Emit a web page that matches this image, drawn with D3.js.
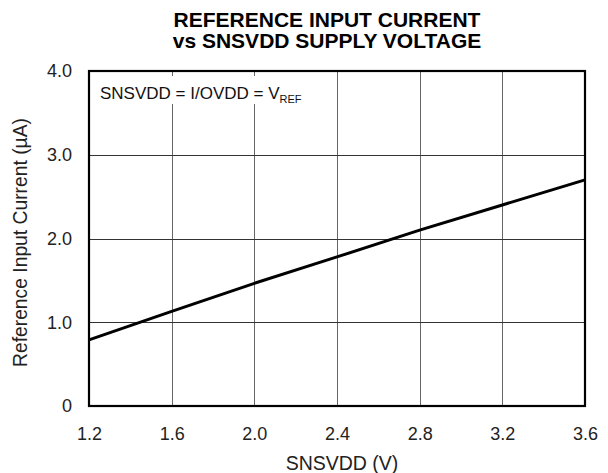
<!DOCTYPE html>
<html><head><meta charset="utf-8">
<script src="https://cdn.jsdelivr.net/npm/d3@7"></script>
<style>body{margin:0;background:#fff;} svg{display:block;font-family:"Liberation Sans",Arial,Helvetica,sans-serif;}</style>
</head><body>
<svg id="c" width="608" height="473"></svg>
<script>
const voltages = [1.2, 1.6, 2.0, 2.4, 2.8, 3.2, 3.6];
const currents = [0.79, 1.13, 1.465, 1.78, 2.10, 2.40, 2.70];
const xTicks = [1.2, 1.6, 2.0, 2.4, 2.8, 3.2, 3.6];
const yTicks = [0, 1, 2, 3, 4];
const yTickLabels = ["0", "1.0", "2.0", "3.0", "4.0"];
const titleLines = ["REFERENCE INPUT CURRENT", "vs SNSVDD SUPPLY VOLTAGE"];

const svg = d3.select("#c");
const L = 89, R = 585, T = 71, B = 406;
const x = d3.scaleLinear().domain([1.2, 3.6]).range([L, R]);
const y = d3.scaleLinear().domain([0, 4]).range([B, T]);

// grid
svg.append("g").selectAll("line").data(xTicks.slice(1, -1)).join("line")
  .attr("x1", d => Math.round(x(d)) + 0.5).attr("x2", d => Math.round(x(d)) + 0.5)
  .attr("y1", T).attr("y2", B).attr("stroke", "#666").attr("stroke-width", 1);
svg.append("g").selectAll("line").data(yTicks.slice(1, -1)).join("line")
  .attr("x1", L).attr("x2", R)
  .attr("y1", d => Math.round(y(d)) + 0.5).attr("y2", d => Math.round(y(d)) + 0.5)
  .attr("stroke", "#333").attr("stroke-width", 1);

// annotation box + text
svg.append("rect").attr("x", L + 2).attr("y", 76).attr("width", 225).attr("height", 28).attr("fill", "#fff");
const ann = svg.append("text").attr("x", 100).attr("y", 99).attr("font-size", 17).attr("fill", "#111");
ann.append("tspan").text("SNSVDD = I/OVDD = V");
ann.append("tspan").attr("font-size", 11).attr("dy", 4).text("REF");

// data line
svg.append("path").datum(voltages.map((v, i) => [v, currents[i]]))
  .attr("d", d3.line().x(d => x(d[0])).y(d => y(d[1])))
  .attr("fill", "none").attr("stroke", "#000").attr("stroke-width", 3);

// frame
svg.append("rect").attr("x", L).attr("y", T).attr("width", R - L).attr("height", B - T)
  .attr("fill", "none").attr("stroke", "#000").attr("stroke-width", 2.2);

// axes
const xa = svg.append("g").attr("transform", `translate(0,${B})`)
  .call(d3.axisBottom(x).tickValues(xTicks).tickFormat(d3.format(".1f")).tickSize(0).tickPadding(21));
const ya = svg.append("g").attr("transform", `translate(${L},0)`)
  .call(d3.axisLeft(y).tickValues(yTicks).tickFormat((d, i) => yTickLabels[i]).tickSize(0).tickPadding(17));
[xa, ya].forEach(g => {
  g.select(".domain").remove();
  g.selectAll("text").attr("font-size", 18).attr("fill", "#222").attr("font-family", '"Liberation Sans",Arial,sans-serif');
});

// axis titles
svg.append("text").attr("x", 342).attr("y", 469.5).attr("text-anchor", "middle")
  .attr("font-size", 19.5).attr("fill", "#222").text("SNSVDD (V)");
svg.append("text").attr("transform", "translate(26.5,242.5) rotate(-90)").attr("text-anchor", "middle")
  .attr("font-size", 19.3).attr("fill", "#222").text("Reference Input Current (\u00b5A)");

// title
svg.append("g").selectAll("text").data(titleLines).join("text")
  .attr("x", 327).attr("y", (d, i) => 27 + i * 21).attr("text-anchor", "middle")
  .attr("font-size", 21).attr("font-weight", "bold").attr("fill", "#000")
  .text(d => d);
</script>
</body></html>
